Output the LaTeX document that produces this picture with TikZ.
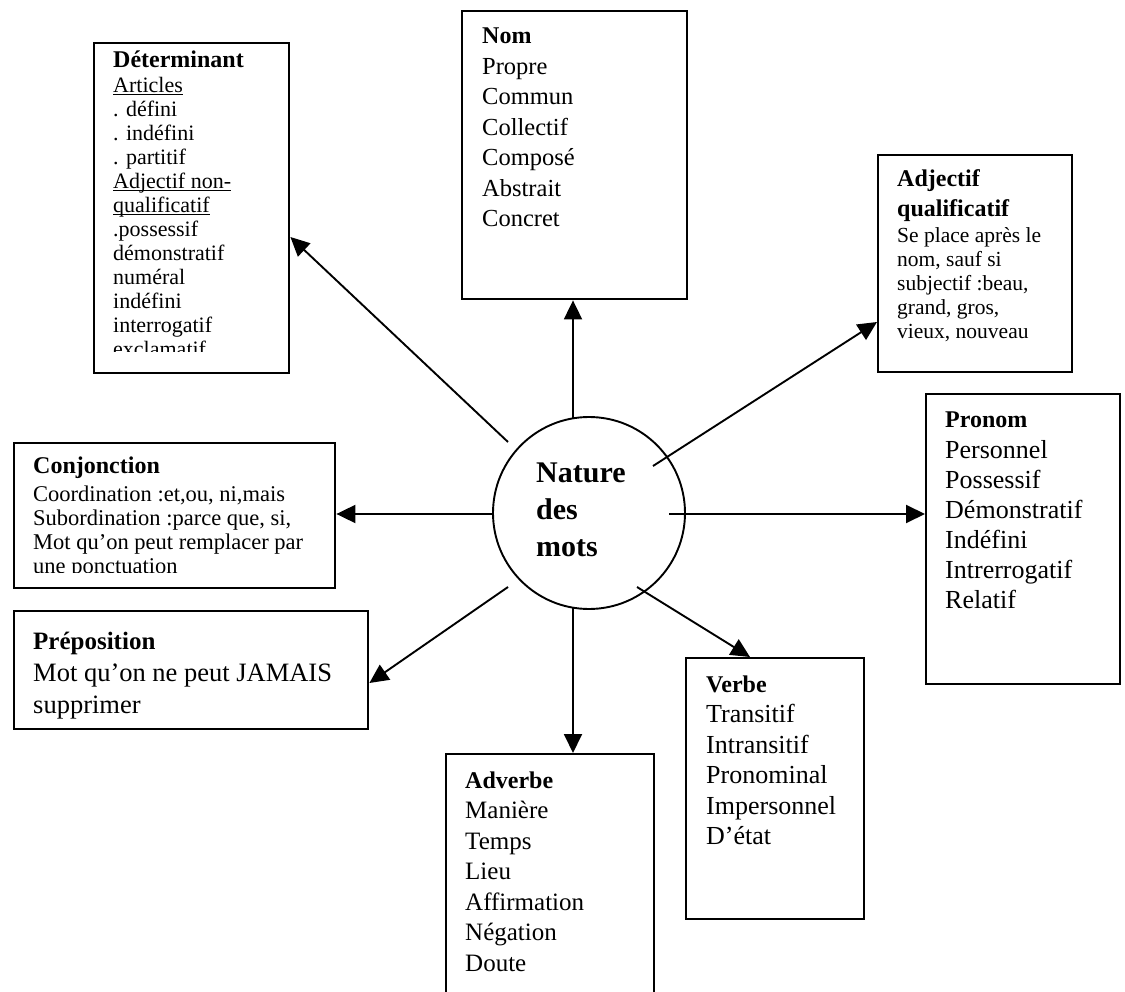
\documentclass[tikz,border=0pt]{standalone}
\usepackage{fontspec}
\setmainfont{Liberation Serif}
\usetikzlibrary{arrows.meta}
\newcommand\ulw[1]{\underline{\smash{#1}}}
\begin{document}
\begin{tikzpicture}[x=1pt,y=-1pt,
  box/.style={draw, line width=2.4pt, inner sep=0pt, anchor=north west},
  arr/.style={line width=1.9pt, -{Triangle[length=19pt,width=18pt]}},
  ttl/.style={anchor=base west, inner sep=0pt, font=\bfseries\fontsize{24}{28}\selectfont},
  big/.style={anchor=base west, inner sep=0pt, font=\fontsize{25}{30}\selectfont},
  sml/.style={anchor=base west, inner sep=0pt, font=\fontsize{22}{24}\selectfont},
  ctr/.style={anchor=base west, inner sep=0pt, font=\bfseries\fontsize{30}{36}\selectfont}
]
\useasboundingbox (0,0) rectangle (1125,992);

% boxes
\node[box, minimum width=195pt, minimum height=330pt] (det) at (93,42) {};
\node[box, minimum width=225pt, minimum height=288pt] (nom) at (461,10) {};
\node[box, minimum width=194pt, minimum height=217pt] (adj) at (877,154) {};
\node[box, minimum width=194pt, minimum height=290pt] (pro) at (925,393) {};
\node[box, minimum width=321pt, minimum height=145pt] (con) at (13,442) {};
\node[box, minimum width=354pt, minimum height=118pt] (pre) at (13,610) {};
\node[box, minimum width=178pt, minimum height=261pt] (ver) at (685,657) {};
\node[box, minimum width=208pt, minimum height=260pt] (adv) at (445,753) {};
\node[draw, circle, line width=1.9pt, minimum size=192pt, inner sep=0pt] (nat) at (589,513) {};

% centre text
\node[ctr] (nat-1) at (536,482) {Nature};
\node[ctr] (nat-2) at (536,519) {des};
\node[ctr] (nat-3) at (536,556) {mots};

% Determinant
\node[ttl] (det-t) at (113,68) {Déterminant};
\begin{scope}
\clip (93,42) rectangle (288,352);
\foreach \s [count=\i from 0] in {\ulw{Articles}, . défini, . indéfini, . partitif, \ulw{Adjectif non-}, \ulw{qualificatif}, .possessif, démonstratif, numéral, indéfini, interrogatif, exclamatif}
  \node[sml] (det-\i) at (113,93+24*\i) {\s};
\end{scope}

% Nom
\node[ttl] (nom-t) at (482,44) {Nom};
\foreach \s [count=\i from 0] in {Propre, Commun, Collectif, Composé, Abstrait, Concret}
  \node[big, font=\fontsize{24.5}{30}\selectfont] (nom-\i) at (482,74.5+30.5*\i) {\s};

% Adjectif qualificatif
\node[ttl] (adj-t1) at (897,187) {Adjectif};
\node[ttl] (adj-t2) at (897,217) {qualificatif};
\foreach \s [count=\i from 0] in {Se place après le, {nom, sauf si}, {subjectif :beau,}, {grand, gros,}, {vieux, nouveau}}
  \node[sml, font=\fontsize{21.5}{24}\selectfont] (adj-\i) at (897,243+24*\i) {\s};

% Pronom
\node[ttl] (pro-t) at (945,428) {Pronom};
\foreach \s [count=\i from 0] in {Personnel, Possessif, Démonstratif, Indéfini, Intrerrogatif, Relatif}
  \node[big, font=\fontsize{26}{30}\selectfont] (pro-\i) at (945,458+30*\i) {\s};

% Conjonction
\node[ttl] (con-t) at (33,473) {Conjonction};
\begin{scope}
\clip (13,442) rectangle (334,572);
\foreach \s [count=\i from 0] in {{Coordination :et,ou, ni,mais}, {Subordination :parce que, si,}, {Mot qu’on peut remplacer par}, {une ponctuation}}
  \node[sml, font=\fontsize{22.5}{24}\selectfont] (con-\i) at (33,501+24*\i) {\s};
\end{scope}

% Preposition
\node[ttl, font=\bfseries\fontsize{25}{28}\selectfont] (pre-t) at (33,649) {Préposition};
\node[big, font=\fontsize{26.5}{30}\selectfont] (pre-1) at (33,681) {Mot qu’on ne peut JAMAIS};
\node[big, font=\fontsize{26.5}{30}\selectfont] (pre-2) at (33,713) {supprimer};

% Verbe
\node[ttl] (ver-t) at (706,692) {Verbe};
\foreach \s [count=\i from 0] in {Transitif, Intransitif, Pronominal, Impersonnel, D’état}
  \node[big, font=\fontsize{26}{30}\selectfont] (ver-\i) at (706,722.5+30.5*\i) {\s};

% Adverbe
\node[ttl] (adv-t) at (465,788) {Adverbe};
\foreach \s [count=\i from 0] in {Manière, Temps, Lieu, Affirmation, Négation, Doute}
  \node[big] (adv-\i) at (465,818.5+30.5*\i) {\s};

% connector end points
\coordinate (s-nom) at (573,418);
\coordinate (s-adv) at (573,608);
\coordinate (s-pro) at (669,514);
\coordinate (s-con) at (493,514);
\coordinate (s-det) at (508,442);
\coordinate (s-adj) at (653,466);
\coordinate (s-pre) at (508,587);
\coordinate (s-ver) at (637,587);
\coordinate (t-det) at (288,237);
\coordinate (t-adj) at (877,322);
\coordinate (t-pre) at (367,683);
\coordinate (t-ver) at (750,657);

\draw[arr] (s-nom) -- (nom.south -| s-nom);
\draw[arr] (s-adv) -- (adv.north -| s-adv);
\draw[arr] (s-pro) -- (pro.west |- s-pro);
\draw[arr] (s-con) -- (con.east |- s-con);
\draw[arr] (s-det) -- (det.east |- t-det);
\draw[arr] (s-adj) -- (adj.west |- t-adj);
\draw[arr] (s-pre) -- (pre.east |- t-pre);
\draw[arr] (s-ver) -- (ver.north -| t-ver);
\end{tikzpicture}
\end{document}
